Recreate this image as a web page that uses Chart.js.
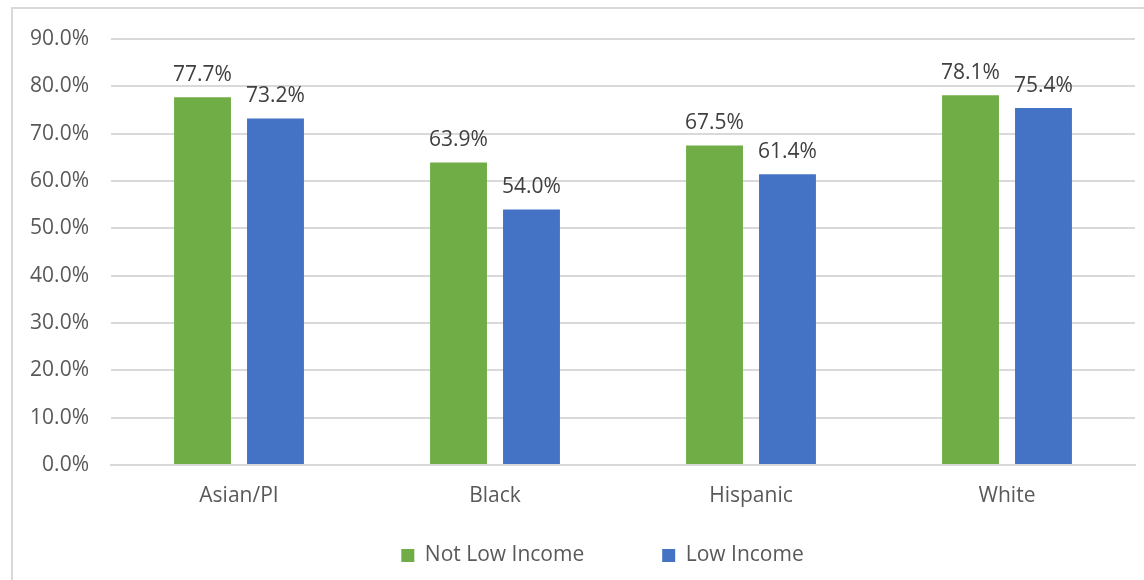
<!DOCTYPE html>
<html>
<head>
<meta charset="utf-8">
<script src="https://cdn.jsdelivr.net/npm/chart.js@4"></script>
<style>
    html, body { margin: 0; padding: 0; background: #fff; }
    #wrap { position: relative; width: 1144px; height: 580px; overflow: hidden; }
    #frame {
        position: absolute; left: 11px; top: 7px; width: 1200px; height: 640px;
        border: 2px solid #d9d9d9; pointer-events: none;
    }
    canvas { position: absolute; left: 0; top: 0; }
</style>
</head>
<body>
<div id="wrap">
    <canvas id="chart" width="1144" height="580"></canvas>
    <div id="frame"></div>
</div>
<script>
const categories = ['Asian/PI', 'Black', 'Hispanic', 'White'];
const notLowIncome = [77.7, 63.9, 67.5, 78.1];
const lowIncome = [73.2, 54.0, 61.4, 75.4];
const seriesNames = ['Not Low Income', 'Low Income'];

const FONT = "'Open Sans', 'Noto Sans', sans-serif";

// draws the value labels above each bar
const valueLabels = {
    id: 'valueLabels',
    afterDatasetsDraw(chart) {
        const ctx = chart.ctx;
        ctx.save();
        ctx.font = '21px ' + FONT;
        ctx.fillStyle = '#404040';
        ctx.textAlign = 'center';
        ctx.textBaseline = 'bottom';
        chart.data.datasets.forEach((ds, i) => {
            chart.getDatasetMeta(i).data.forEach((bar, j) => {
                ctx.fillText(ds.data[j].toFixed(1) + '%', bar.x, bar.y - 12);
            });
        });
        ctx.restore();
    },
};

// the wide legend padding also pads it vertically, so pull the legend
// back up under the axis labels and a bit right, as in the original
const legendShift = {
    id: 'legendShift',
    afterLayout(chart) {
        const lg = chart.legend;
        lg.top -= 48;
        lg.bottom -= 48;
        lg.left += 35;
        lg.right += 35;
    },
};

const ctx = document.getElementById('chart').getContext('2d');
new Chart(ctx, {
    type: 'bar',
    data: {
        labels: categories,
        datasets: [{
            label: seriesNames[0],
            data: notLowIncome,
            backgroundColor: '#70AD47',
        }, {
            label: seriesNames[1],
            data: lowIncome,
            backgroundColor: '#4472C4',
        }],
    },
    options: {
        responsive: false,
        animation: false,
        layout: { padding: { left: 0, right: 9, top: 39, bottom: -44 } },
        datasets: {
            bar: { categoryPercentage: 0.57, barPercentage: 0.78 },
        },
        plugins: {
            tooltip: { enabled: false },
            legend: {
                position: 'bottom',
                labels: {
                    boxWidth: 13,
                    boxHeight: 13,
                    padding: 78,
                    color: '#595959',
                    font: { family: FONT, size: 21 },
                },
            },
        },
        scales: {
            x: {
                afterFit(scale) { scale.height = 50; },
                grid: { display: false },
                border: { color: '#d9d9d9', width: 2 },
                ticks: {
                    color: '#595959',
                    padding: 10,
                    font: { family: FONT, size: 21 },
                },
            },
            y: {
                min: 0,
                max: 90,
                afterFit(scale) { scale.width = 111; },
                grid: { color: '#d9d9d9', lineWidth: 2, drawTicks: false },
                border: { display: false },
                ticks: {
                    stepSize: 10,
                    padding: 22,
                    color: '#595959',
                    font: { family: FONT, size: 21 },
                    callback: v => v.toFixed(1) + '%',
                },
            },
        },
    },
    plugins: [valueLabels, legendShift],
});
</script>
</body>
</html>
